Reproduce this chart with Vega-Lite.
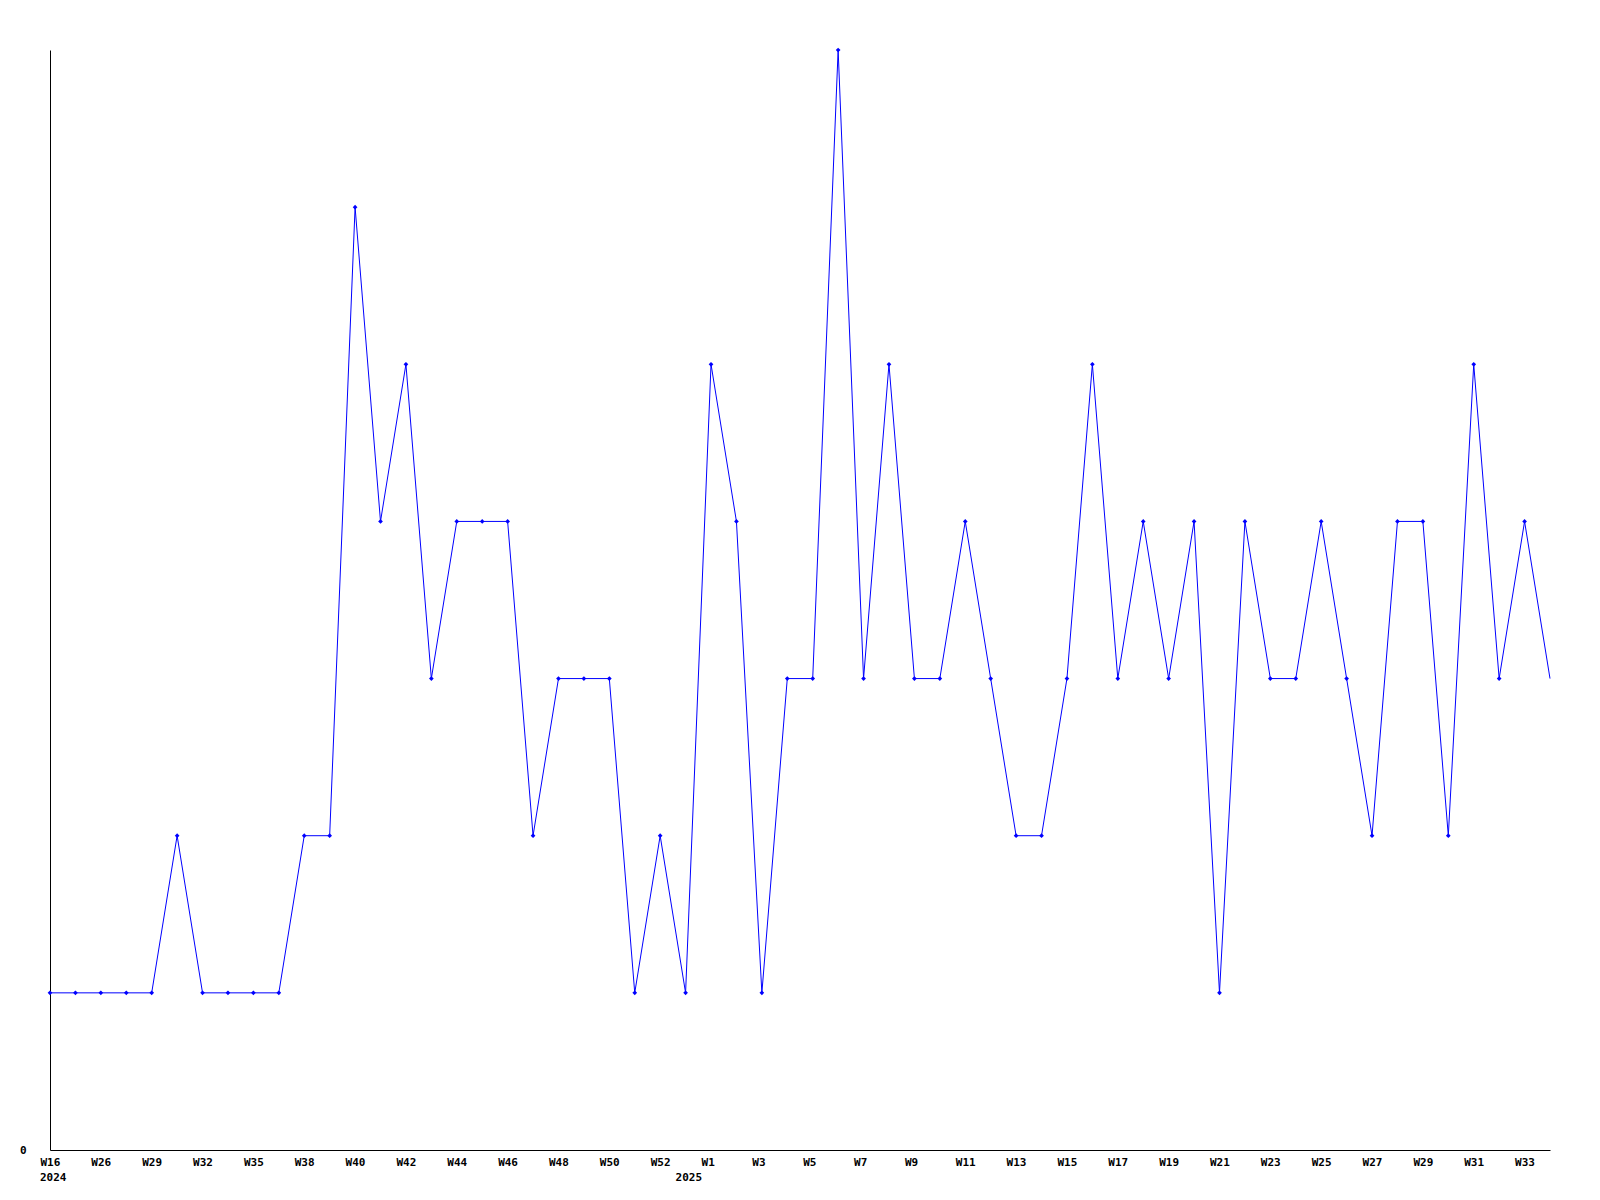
{
  "$schema": "https://vega.github.io/schema/vega-lite/v6.json",
  "width": 1500,
  "height": 1100,
  "autosize": {"type": "none"},
  "padding": {"left": 50, "top": 50, "right": 50, "bottom": 50},
  "background": "white",
  "config": {"view": {"stroke": null}},
  "data": {"values": [
    {"key": "2024-W16", "v": 1, "yearLabel": "2024"},
    {"key": "2024-W25", "v": 1},
    {"key": "2024-W26", "v": 1},
    {"key": "2024-W28", "v": 1},
    {"key": "2024-W29", "v": 1},
    {"key": "2024-W31", "v": 2},
    {"key": "2024-W32", "v": 1},
    {"key": "2024-W34", "v": 1},
    {"key": "2024-W35", "v": 1},
    {"key": "2024-W37", "v": 1},
    {"key": "2024-W38", "v": 2},
    {"key": "2024-W39", "v": 2},
    {"key": "2024-W40", "v": 6},
    {"key": "2024-W41", "v": 4},
    {"key": "2024-W42", "v": 5},
    {"key": "2024-W43", "v": 3},
    {"key": "2024-W44", "v": 4},
    {"key": "2024-W45", "v": 4},
    {"key": "2024-W46", "v": 4},
    {"key": "2024-W47", "v": 2},
    {"key": "2024-W48", "v": 3},
    {"key": "2024-W49", "v": 3},
    {"key": "2024-W50", "v": 3},
    {"key": "2024-W51", "v": 1},
    {"key": "2024-W52", "v": 2},
    {"key": "2024-W53", "v": 1, "yearLabel": "2025"},
    {"key": "2025-W1", "v": 5},
    {"key": "2025-W2", "v": 4},
    {"key": "2025-W3", "v": 1},
    {"key": "2025-W4", "v": 3},
    {"key": "2025-W5", "v": 3},
    {"key": "2025-W6", "v": 7},
    {"key": "2025-W7", "v": 3},
    {"key": "2025-W8", "v": 5},
    {"key": "2025-W9", "v": 3},
    {"key": "2025-W10", "v": 3},
    {"key": "2025-W11", "v": 4},
    {"key": "2025-W12", "v": 3},
    {"key": "2025-W13", "v": 2},
    {"key": "2025-W14", "v": 2},
    {"key": "2025-W15", "v": 3},
    {"key": "2025-W16", "v": 5},
    {"key": "2025-W17", "v": 3},
    {"key": "2025-W18", "v": 4},
    {"key": "2025-W19", "v": 3},
    {"key": "2025-W20", "v": 4},
    {"key": "2025-W21", "v": 1},
    {"key": "2025-W22", "v": 4},
    {"key": "2025-W23", "v": 3},
    {"key": "2025-W24", "v": 3},
    {"key": "2025-W25", "v": 4},
    {"key": "2025-W26", "v": 3},
    {"key": "2025-W27", "v": 2},
    {"key": "2025-W28", "v": 4},
    {"key": "2025-W29", "v": 4},
    {"key": "2025-W30", "v": 2},
    {"key": "2025-W31", "v": 5},
    {"key": "2025-W32", "v": 3},
    {"key": "2025-W33", "v": 4},
    {"key": "2025-W34", "v": 3}
  ]},
  "encoding": {
    "x": {
      "field": "key",
      "type": "ordinal",
      "sort": null,
      "scale": {"type": "point", "padding": 0},
      "axis": {
        "title": null,
        "ticks": false,
        "tickSize": 0,
        "grid": false,
        "domainColor": "black",
        "domainWidth": 1,
        "labelAngle": 0,
        "labelAlign": "left",
        "labelBaseline": "top",
        "labelOffset": -10,
        "labelPadding": 6,
        "labelFont": "DejaVu Sans Mono",
        "labelFontWeight": "bold",
        "labelFontSize": 11,
        "labelColor": "black",
        "labelOverlap": false,
        "labelBound": false,
        "labelFlush": false,
        "values": ["2024-W16","2024-W26","2024-W29","2024-W32","2024-W35","2024-W38","2024-W40","2024-W42","2024-W44","2024-W46","2024-W48","2024-W50","2024-W52","2025-W1","2025-W3","2025-W5","2025-W7","2025-W9","2025-W11","2025-W13","2025-W15","2025-W17","2025-W19","2025-W21","2025-W23","2025-W25","2025-W27","2025-W29","2025-W31","2025-W33"],
        "labelExpr": "split(datum.value, '-')[1]"
      }
    }
  },
  "layer": [
    {
      "mark": {"type": "line", "color": "#0000ff", "strokeWidth": 1},
      "encoding": {
        "y": {
          "field": "v",
          "type": "quantitative",
          "scale": {"domain": [0, 7], "nice": false, "zero": true},
          "axis": {
            "title": null,
            "values": [0],
            "format": "d",
            "ticks": false,
            "tickSize": 0,
            "grid": false,
            "domainColor": "black",
            "domainWidth": 1,
            "labelPadding": 24,
            "labelFont": "DejaVu Sans Mono",
            "labelFontWeight": "bold",
            "labelFontSize": 11,
            "labelColor": "black"
          }
        }
      }
    },
    {
      "transform": [{"filter": "datum.key != '2025-W34'"}],
      "mark": {"type": "point", "shape": "diamond", "filled": true, "size": 22, "color": "#0000ff", "opacity": 1},
      "encoding": {"y": {"field": "v", "type": "quantitative"}}
    },
    {
      "transform": [{"filter": "isValid(datum.yearLabel)"}],
      "mark": {"type": "text", "align": "left", "baseline": "top", "dx": -10, "dy": 22, "font": "DejaVu Sans Mono", "fontWeight": "bold", "fontSize": 11, "color": "black"},
      "encoding": {
        "y": {"datum": 0, "type": "quantitative"},
        "text": {"field": "yearLabel"}
      }
    }
  ]
}
